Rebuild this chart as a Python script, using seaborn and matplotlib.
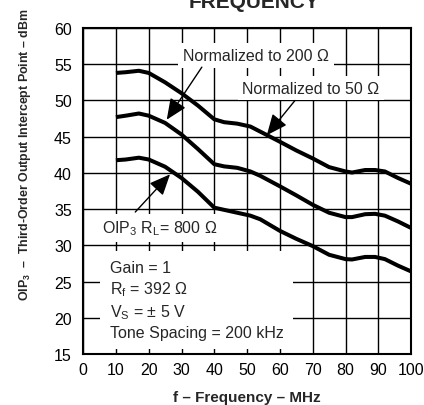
import numpy as np
import pandas as pd
import matplotlib
matplotlib.use("Agg")
import matplotlib.pyplot as plt
import seaborn as sns

# frequency points (MHz)
freq = [10, 13, 17, 20, 25, 30, 35, 40, 43, 47, 51, 54, 60, 65, 70, 75, 80, 82, 86, 89, 92, 96, 100]

# OIP3 (dBm) for the three normalisations
oip3_50 = [53.8, 53.9, 54.1, 53.8, 52.5, 51.0, 49.3, 47.4, 47.0, 46.8, 46.4, 45.7,
           44.3, 43.1, 42.0, 40.8, 40.2, 40.05, 40.4, 40.4, 40.2, 39.3, 38.5]
oip3_200 = [47.7, 47.9, 48.2, 47.9, 46.9, 45.3, 43.3, 41.2, 40.9, 40.7, 40.2, 39.6,
            38.15, 36.9, 35.6, 34.5, 33.9, 33.9, 34.3, 34.35, 34.1, 33.3, 32.4]
oip3_800 = [41.75, 41.85, 42.1, 41.85, 40.85, 39.3, 37.4, 35.2, 34.9, 34.5, 34.1, 33.6,
            32.0, 30.9, 29.9, 28.7, 28.1, 28.05, 28.4, 28.4, 28.1, 27.2, 26.4]

series_names = ["50", "200", "800"]
x_ticks = list(range(0, 101, 10))
y_ticks = list(range(15, 61, 5))

sns.set_style("ticks")
plt.rcParams["font.family"] = ["Liberation Sans", "DejaVu Sans"]
plt.rcParams["mathtext.fontset"] = "custom"
plt.rcParams["mathtext.rm"] = "Liberation Sans"
plt.rcParams["mathtext.it"] = "Liberation Sans:italic"
plt.rcParams["mathtext.bf"] = "Liberation Sans:bold"

df = pd.DataFrame({
    "freq": freq * 3,
    "oip3": oip3_50 + oip3_200 + oip3_800,
    "load": np.repeat(series_names, len(freq)),
})

fig = plt.figure(figsize=(4.24, 4.06), dpi=100)
ax = fig.add_axes([0.196, 0.1256, 0.7736, 0.8029])

sns.lineplot(data=df, x="freq", y="oip3", hue="load", units="load", estimator=None,
             palette=["black"] * 3, linewidth=2.9, legend=False, ax=ax, zorder=2)
for line in ax.get_lines():
    line.set_solid_joinstyle("round")
    line.set_solid_capstyle("butt")

ax.set_xlim(0, 100)
ax.set_ylim(15, 60)
ax.set_xticks(x_ticks)
ax.set_yticks(y_ticks)
ax.tick_params(length=0, labelsize=11.5, colors="black")
ax.tick_params(axis="x", pad=6)
ax.tick_params(axis="y", pad=8)
ax.set_axisbelow(True)
ax.grid(True, color="black", linewidth=1.0)
for s in ax.spines.values():
    s.set_visible(True)
    s.set_linewidth(1.5)
    s.set_color("black")

ax.set_xlabel("f – Frequency – MHz", fontsize=11, fontweight="bold", labelpad=9)
ax.set_ylabel("")
fig.text(0.059, 0.62, r"OIP$_{\mathbf{3}}$  –  Third-Order Output Intercept Point – dBm",
         rotation=90, ha="center", va="center", fontsize=8.9, fontweight="bold")
fig.text(0.6, 0.981, "FREQUENCY", ha="center", va="baseline", fontsize=15, fontweight="bold")

box = dict(boxstyle="square,pad=0.3", fc="white", ec="none")
arrow = dict(arrowstyle="-|>,head_length=0.8,head_width=0.35", color="black", lw=1,
             shrinkA=0, shrinkB=0, mutation_scale=16)

ax.text(52.7, 55.58, "Normalized to 200 Ω", ha="center", va="baseline", fontsize=11.5,
        bbox=box, zorder=3)
ax.annotate("", xy=(25.5, 47.35), xytext=(36.2, 54.6), arrowprops=arrow, zorder=4)

ax.text(69.5, 51.1, "Normalized to 50 Ω", ha="center", va="baseline", fontsize=11.5,
        bbox=box, zorder=3)
ax.annotate("", xy=(56.0, 45.2), xytext=(64.6, 50.0), arrowprops=arrow, zorder=4)

ax.text(23.5, 31.78, r"OIP$_{\mathrm{3}}$ R$_{\mathrm{L}}$= 800 Ω", ha="center", va="baseline",
        fontsize=11.5, bbox=box, zorder=3)
ax.annotate("", xy=(26.5, 39.8), xytext=(15.9, 34.6), arrowprops=arrow, zorder=4)

ax.text(8.2, 27.95,
        "Gain = 1\nR$_{\\mathrm{f}}$ = 392 Ω\nV$_{\\mathrm{S}}$ = ± 5 V\nTone Spacing = 200 kHz",
        ha="left", va="top", fontsize=11.5, linespacing=1.3,
        bbox=dict(boxstyle="square,pad=0.6", fc="white", ec="none"), zorder=3)

fig.savefig("out.png", dpi=100)
